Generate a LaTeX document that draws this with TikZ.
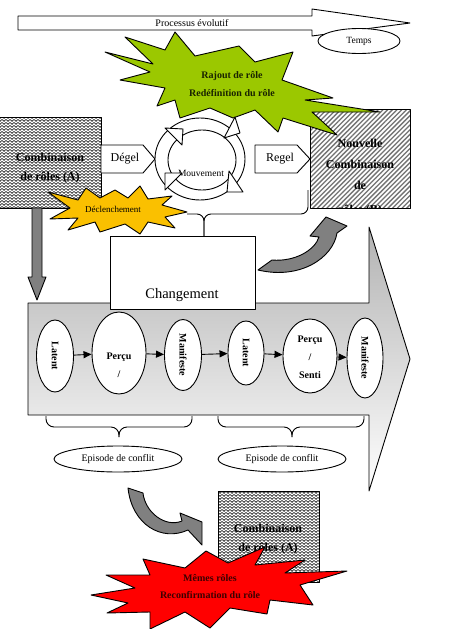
\documentclass[tikz,border=0pt]{standalone}
\usepackage{fontspec}
\setmainfont{Liberation Serif}
\usetikzlibrary{shapes.geometric,arrows.meta,patterns}

\pgfdeclarepatternformonly{weave}{\pgfpoint{-0.5pt}{-0.5pt}}{\pgfpoint{4.5pt}{3.5pt}}{\pgfpoint{4pt}{3pt}}{%
  \pgfsetlinewidth{0.75pt}%
  \pgfpathmoveto{\pgfpoint{-0.5pt}{0.5pt}}%
  \pgfpathlineto{\pgfpoint{2pt}{2.5pt}}%
  \pgfpathlineto{\pgfpoint{4.5pt}{0.5pt}}%
  \pgfusepath{stroke}}
\pgfdeclarepatternformonly{nelines}{\pgfpoint{-1pt}{-1pt}}{\pgfpoint{5.7pt}{5.7pt}}{\pgfpoint{4.7pt}{4.7pt}}{%
  \pgfsetlinewidth{1.3pt}%
  \pgfpathmoveto{\pgfpoint{0pt}{0pt}}%
  \pgfpathlineto{\pgfpoint{4.8pt}{4.8pt}}%
  \pgfusepath{stroke}}

\definecolor{stargreen}{RGB}{155,200,0}
\definecolor{staryellow}{RGB}{250,192,0}
\definecolor{starred}{RGB}{255,0,0}
\definecolor{arrowgray}{RGB}{128,128,128}
\definecolor{darkred}{RGB}{60,0,0}
\definecolor{darkgreen}{RGB}{25,35,0}

\begin{document}
\begin{tikzpicture}[x=1pt,y=-1pt,line width=0.9pt,line join=round,
  txt/.style={inner sep=0pt,font=\fontsize{#1}{#1}\selectfont},
  btxt/.style={inner sep=0pt,font=\fontsize{#1}{#1}\selectfont\bfseries},
  ell/.style={ellipse,draw,fill=white,inner sep=0pt,font=\fontsize{10}{10}\selectfont\bfseries},
  star/.style={draw,line width=0.9pt},
  grayarrow/.style={draw,fill=arrowgray,line width=0.9pt},
  weavebox/.style={draw,preaction={fill=white},pattern=weave,pattern color=black!75},
  linebox/.style={draw,preaction={fill=white},pattern=nelines,pattern color=black!55},
  tri/.style={-{Triangle[length=8pt,width=7pt]},line width=0.9pt},
  brc/.style={rounded corners=8pt,line width=0.9pt}]
\useasboundingbox (0,0) rectangle (474,629);

% top process arrow
\draw[fill=white] (18,16) -- (312,16) -- (312,9) -- (410,23) -- (312,36) -- (312,30) -- (18,30) -- cycle;
\node[txt=10] (proc) at (192,23) {Processus évolutif};
\node[ellipse,draw,fill=white,minimum width=82pt,minimum height=25pt,inner sep=0pt,font=\fontsize{9.5}{9.5}\selectfont] (temps) at (359,41) {Temps};

% combination A (top)
\draw[weavebox] (-1,117) rectangle (101,208);
\node[btxt=12] (caa) at (50,157) {Combinaison};
\node[btxt=12] (cab) at (50,178) {de rôles (A)};

% new combination
\draw[linebox] (310,109) rectangle (410,208);
\node[btxt=12] (nca) at (360,143) {Nouvelle};
\node[btxt=12] (ncb) at (360,164) {Combinaison};
\node[btxt=12] (ncc) at (360,185) {de};
\begin{scope}
\clip (310,109) rectangle (410,208);
\node[btxt=12] (ncd) at (360,211) {rôles (B)};
\end{scope}

% green star
\draw[star,fill=stargreen] (105,52) -- (153,64) -- (125,37) -- (165,50) -- (175,32) -- (195,56) -- (239,46) -- (255,62) -- (293,52) -- (282,80) -- (333,98) -- (305,100) -- (380,112) -- (312,112) -- (337,135) -- (283,118) -- (278,132) -- (255,110) -- (233,118) -- (210,108) -- (180,118) -- (175,100) -- (157,106) -- (165,88) -- (120,80) -- (150,72) -- cycle;
\node[btxt=10,text=darkgreen] (ga) at (232,76) {Rajout de rôle};
\node[btxt=10,text=darkgreen] (gb) at (232,93) {Redéfinition du rôle};

% Degel / Regel
\draw[fill=white] (101,145) -- (143,145) -- (155,159) -- (143,173) -- (101,173) -- cycle;
\node[txt=12] (degel) at (125,159) {Dégel};
\draw[fill=white] (255,145) -- (297,145) -- (310,159) -- (297,173) -- (255,173) -- cycle;
\node[txt=12] (regel) at (280,159) {Regel};

% movement ring
\draw[fill=white] (200,159) ellipse [x radius=45pt, y radius=41pt];
\draw (202,160) ellipse [x radius=34pt, y radius=30pt];
\node[txt=9.5] (mouv) at (201,173) {Mouvement};
\draw[fill=white] (165,128) -- (183,129) -- (182,145) -- cycle;
\draw[fill=white] (235,117) -- (240,133) -- (224,138) -- cycle;
\draw[fill=white] (165,173) -- (182,173) -- (165,190) -- cycle;
\draw[fill=white] (229,171) -- (243,192) -- (227,192) -- cycle;

% yellow star
\draw[star,fill=staryellow] (48,192) -- (78,200) -- (86,188) -- (100,198) -- (115,190) -- (128,198) -- (140,186) -- (148,199) -- (172,196) -- (162,205) -- (187,212) -- (165,217) -- (175,228) -- (148,222) -- (140,234) -- (125,224) -- (100,232) -- (95,222) -- (68,230) -- (78,218) -- (50,219) -- (70,208) -- cycle;
\node[txt=9] (decl) at (113,209) {Déclenchement};

% brace to Changement
\draw[rounded corners=7pt] (187,214) -- (204,214) -- (204,236);
\draw[rounded corners=7pt] (204,236) -- (204,214) -- (308,214) -- (308,190);

% big gradient arrow
\draw[top color=gray!60,bottom color=white] (28,303) -- (369,303) -- (369,227) -- (410,359) -- (369,491) -- (369,415) -- (28,415) -- cycle;

% Changement
\draw[fill=white] (110,236) rectangle (255,309);
\node[txt=14.5] (chg) at (182,295) {Changement};

% gray down arrow
\draw[grayarrow] (32,208) -- (42,208) -- (42,277) -- (46,277) -- (37,300) -- (28,277) -- (32,277) -- cycle;

% top curved arrow
\draw[grayarrow] (258,270) -- (272,260) .. controls (295,262) and (315,250) .. (319,237) -- (310,236) -- (326,217) -- (347,226) -- (337,233) .. controls (333,258) and (300,280) .. (258,270) -- cycle;

% conflict stages
\node[ell,minimum width=37pt,minimum height=72pt] (l1) at (55,356) {\rotatebox{-90}{Latent}};
\node[ell,minimum width=54pt,minimum height=82pt] (p1) at (119,353) {};
\node[btxt=10] (p1a) at (119,357) {Perçu};
\node[btxt=10] (p1b) at (119,374) {/};
\node[ell,minimum width=37pt,minimum height=71pt] (m1) at (183,355) {\rotatebox{-90}{Manifeste}};
\node[ell,minimum width=36pt,minimum height=64pt] (l2) at (246,353) {\rotatebox{-90}{Latent}};
\node[ell,minimum width=54pt,minimum height=74pt] (p2) at (310,356) {};
\node[btxt=10] (p2a) at (310,340) {Perçu};
\node[btxt=10] (p2b) at (310,357) {/};
\node[btxt=10] (p2c) at (310,375) {Senti};
\node[ell,minimum width=36pt,minimum height=80pt] (m2) at (365,358) {\rotatebox{-90}{Manifeste}};
\draw[tri] (l1) -- (p1);
\draw[tri] (p1) -- (m1);
\draw[tri] (m1) -- (l2);
\draw[tri] (l2) -- (p2);
\draw[tri] (p2) -- (m2);

% braces and episodes
\draw[brc] (46,416) -- (46,427) -- (119,427) -- (119,437);
\draw[brc] (119,437) -- (119,427) -- (192,427) -- (192,416);
\draw[brc] (218,416) -- (218,427) -- (292,427) -- (292,437);
\draw[brc] (292,437) -- (292,427) -- (364,427) -- (364,416);
\node[ellipse,draw,fill=white,minimum width=128pt,minimum height=26pt,inner sep=0pt,font=\fontsize{10}{10}\selectfont] (e1) at (118,459) {Episode de conflit};
\node[ellipse,draw,fill=white,minimum width=128pt,minimum height=26pt,inner sep=0pt,font=\fontsize{10}{10}\selectfont] (e2) at (282,459) {Episode de conflit};

% bottom curved arrow
\draw[grayarrow] (128,488) -- (143,493) .. controls (145,512) and (165,528) .. (182,521) -- (180,513) -- (202,522) -- (202,545) -- (188,530) .. controls (162,542) and (132,525) .. (128,488) -- cycle;

% combination A (bottom)
\draw[weavebox] (218,491) rectangle (319,582);
\node[btxt=12] (cba) at (268,528) {Combinaison};
\node[btxt=12] (cbb) at (268,549) {de rôles (A)};

% red star
\draw[star,fill=starred] (91,595) -- (135,588) -- (106,575) -- (150,575) -- (143,559) -- (185,568) -- (206,551) -- (228,563) -- (265,547) -- (255,565) -- (305,560) -- (285,573) -- (347,571) -- (300,585) -- (313,605) -- (270,600) -- (267,614) -- (230,608) -- (210,628) -- (185,612) -- (150,629) -- (150,612) -- (107,613) -- (128,603) -- cycle;
\node[btxt=10,text=darkred] (ra) at (210,578) {Mêmes rôles};
\node[btxt=10,text=darkred] (rb) at (210,595) {Reconfirmation du rôle};
\end{tikzpicture}
\end{document}
